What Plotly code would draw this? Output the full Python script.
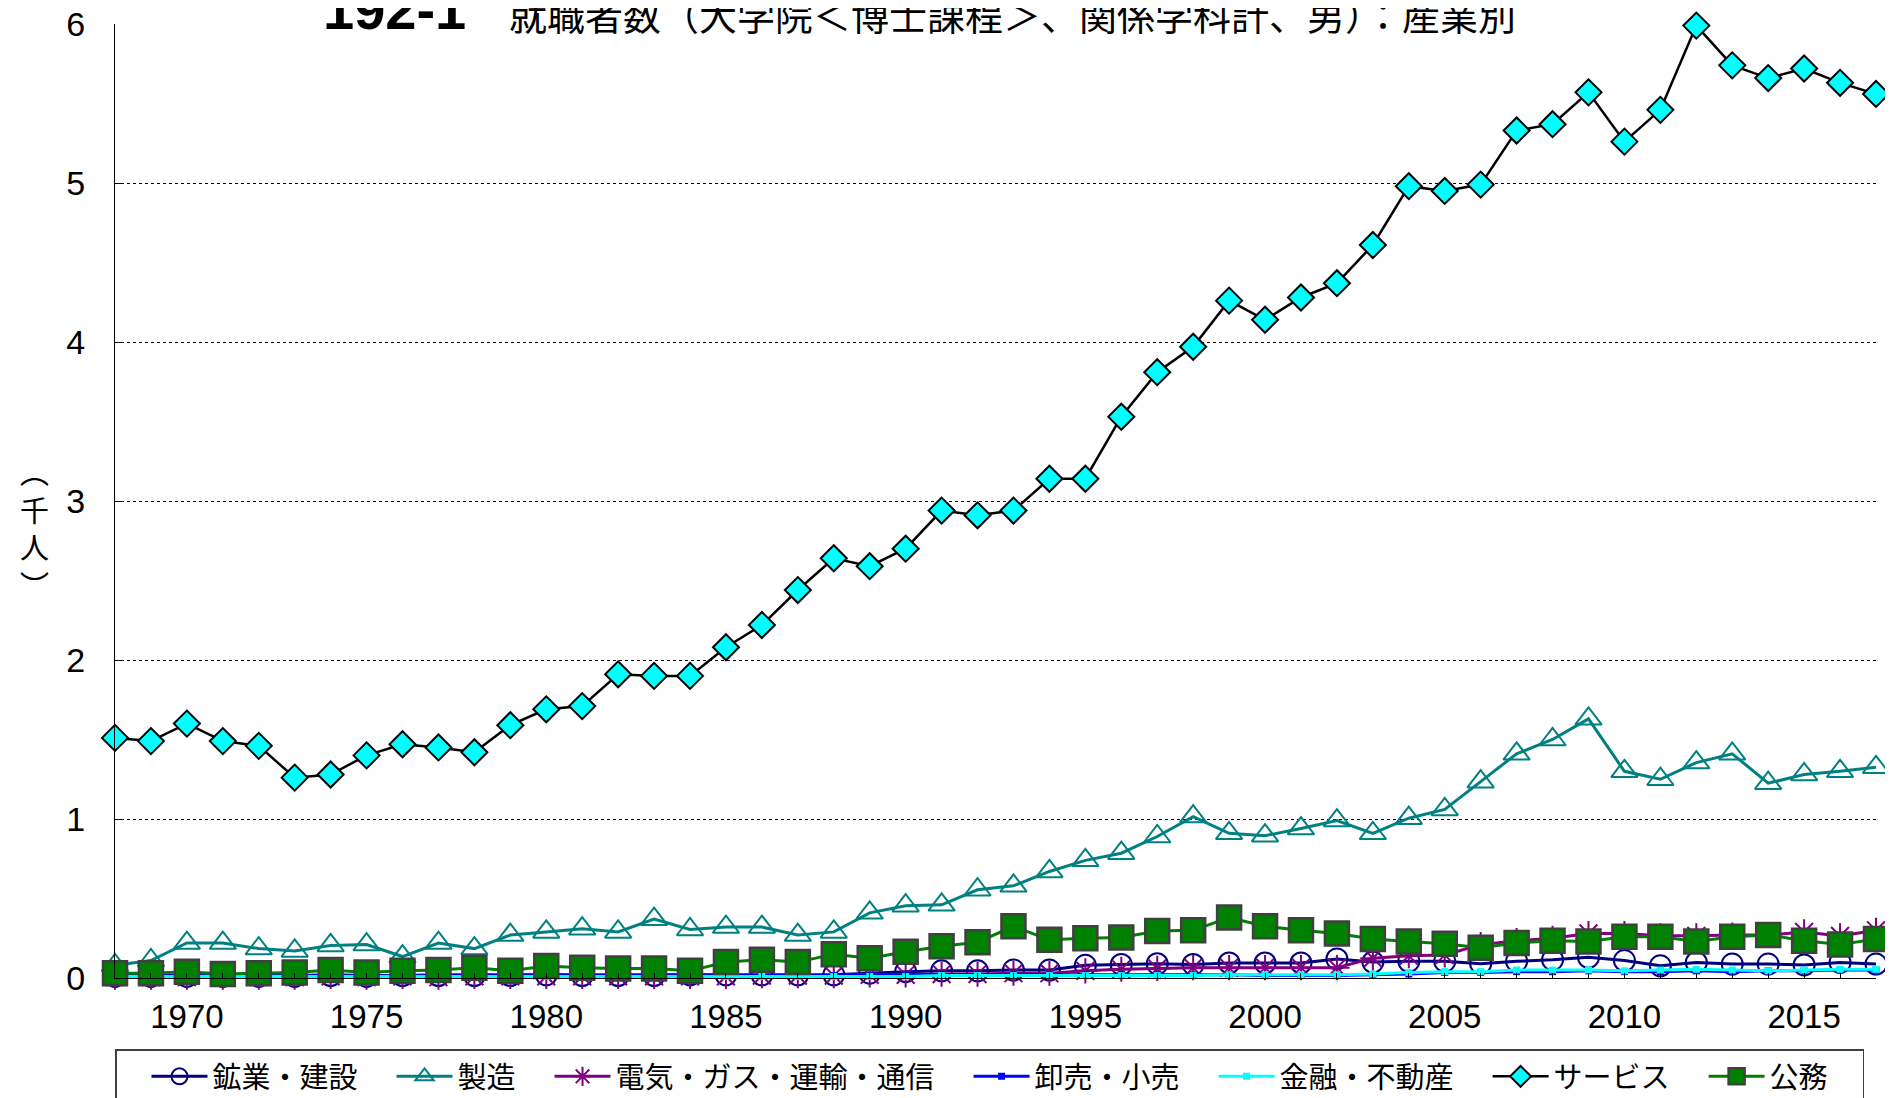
import plotly.graph_objects as go

YEARS = list(range(1968, 2018))

MINING = [0.01, 0.01, 0.01, 0.01, 0.01, 0.01, 0.015, 0.01, 0.015, 0.015,
          0.015, 0.015, 0.02, 0.015, 0.015, 0.015, 0.02, 0.02, 0.02, 0.02,
          0.02, 0.03, 0.04, 0.045, 0.045, 0.05, 0.05, 0.08, 0.085, 0.09,
          0.085, 0.095, 0.095, 0.095, 0.12, 0.10, 0.105, 0.105, 0.09, 0.105,
          0.115, 0.13, 0.11, 0.077, 0.098, 0.088, 0.088, 0.082, 0.098, 0.088]
MANUF = [0.08, 0.11, 0.22, 0.22, 0.185, 0.17, 0.205, 0.21, 0.135, 0.22,
         0.185, 0.27, 0.29, 0.31, 0.29, 0.37, 0.305, 0.32, 0.32, 0.27,
         0.29, 0.41, 0.455, 0.46, 0.555, 0.58, 0.67, 0.74, 0.785, 0.89,
         1.015, 0.91, 0.895, 0.94, 0.99, 0.91, 1.005, 1.06, 1.235, 1.41,
         1.50, 1.63, 1.30, 1.25, 1.355, 1.41, 1.225, 1.28, 1.30, 1.325]
UTIL = [0.005, 0.005, 0.005, 0.005, 0.005, 0.005, 0.01, 0.005, 0.01, 0.005,
        0.01, 0.01, 0.01, 0.01, 0.01, 0.01, 0.01, 0.01, 0.015, 0.015,
        0.015, 0.02, 0.02, 0.025, 0.025, 0.03, 0.03, 0.045, 0.055, 0.06,
        0.065, 0.065, 0.065, 0.065, 0.065, 0.125, 0.14, 0.145, 0.21, 0.235,
        0.25, 0.28, 0.28, 0.265, 0.265, 0.27, 0.27, 0.29, 0.265, 0.30]
TRADE = [0.015, 0.015, 0.015, 0.015, 0.015, 0.015, 0.02, 0.015, 0.015, 0.02,
         0.02, 0.02, 0.02, 0.02, 0.02, 0.02, 0.02, 0.015, 0.015, 0.015,
         0.015, 0.015, 0.02, 0.02, 0.02, 0.02, 0.02, 0.02, 0.02, 0.02,
         0.02, 0.02, 0.015, 0.015, 0.015, 0.02, 0.025, 0.035, 0.035, 0.04,
         0.04, 0.045, 0.04, 0.04, 0.045, 0.04, 0.045, 0.045, 0.05, 0.05]
FINANCE = [0.01, 0.01, 0.01, 0.01, 0.01, 0.01, 0.01, 0.01, 0.01, 0.01,
           0.01, 0.01, 0.01, 0.01, 0.01, 0.01, 0.01, 0.01, 0.01, 0.01,
           0.01, 0.01, 0.01, 0.015, 0.015, 0.015, 0.015, 0.015, 0.015, 0.015,
           0.015, 0.02, 0.02, 0.02, 0.02, 0.025, 0.035, 0.04, 0.04, 0.05,
           0.05, 0.05, 0.045, 0.05, 0.055, 0.05, 0.045, 0.05, 0.055, 0.055]
SERVICE = [1.51, 1.49, 1.60, 1.49, 1.46, 1.26, 1.28, 1.40, 1.47, 1.45,
           1.42, 1.59, 1.69, 1.71, 1.91, 1.90, 1.90, 2.08, 2.22, 2.44,
           2.64, 2.59, 2.70, 2.94, 2.91, 2.94, 3.14, 3.14, 3.53, 3.81,
           3.97, 4.26, 4.14, 4.28, 4.37, 4.61, 4.98, 4.95, 4.99, 5.33,
           5.37, 5.57, 5.26, 5.46, 5.99, 5.74, 5.66, 5.72, 5.63, 5.56]
PUBLIC = [0.03, 0.03, 0.04, 0.025, 0.03, 0.035, 0.05, 0.035, 0.045, 0.05,
          0.065, 0.045, 0.075, 0.065, 0.06, 0.06, 0.045, 0.10, 0.115, 0.10,
          0.15, 0.125, 0.165, 0.20, 0.225, 0.325, 0.24, 0.25, 0.255, 0.295,
          0.30, 0.38, 0.325, 0.30, 0.28, 0.245, 0.23, 0.215, 0.19, 0.22,
          0.235, 0.23, 0.26, 0.26, 0.23, 0.26, 0.27, 0.235, 0.21, 0.245]

NAMES = ["鉱業・建設", "製造", "電気・ガス・運輸・通信", "卸売・小売", "金融・不動産", "サービス", "公務"]
X_TICKS = [1970, 1975, 1980, 1985, 1990, 1995, 2000, 2005, 2010, 2015]
Y_TICKS = [0, 1, 2, 3, 4, 5, 6]
GRID_VALUES = [1, 2, 3, 4, 5]
TITLE_NUM = "192-1"
TITLE = "就職者数（大学院＜博士課程＞、関係学科計、男）：産業別"
Y_TITLE = "︵<br>千<br>人<br>︶"

NUM_FONT = "Liberation Sans, Arial, sans-serif"
JP_FONT = "Noto Sans CJK JP, sans-serif"
PAD = "\u3000"

series = [
    (NAMES[0], MINING, dict(color="#000080", width=3),
     dict(symbol="circle-open", size=21, color="#000080", line=dict(width=2, color="#000080"))),
    (NAMES[1], MANUF, dict(color="#008080", width=3),
     dict(symbol="triangle-up-open", size=23, color="#008080", line=dict(width=2, color="#008080"))),
    (NAMES[2], UTIL, dict(color="#800080", width=3),
     dict(symbol="asterisk-open", size=21, color="#800080", line=dict(width=2, color="#800080"))),
    (NAMES[3], TRADE, dict(color="#0000FF", width=3),
     dict(symbol="square", size=7, color="#0000FF", line=dict(width=0))),
    (NAMES[4], FINANCE, dict(color="#00FFFF", width=3),
     dict(symbol="square", size=7, color="#00FFFF", line=dict(width=0))),
    (NAMES[5], SERVICE, dict(color="#000000", width=2.5),
     dict(symbol="diamond", size=20, color="#00FFFF", line=dict(width=2, color="#000000"))),
    (NAMES[6], PUBLIC, dict(color="#008000", width=3),
     dict(symbol="square", size=24, color="#008000", line=dict(width=2.5, color="#404040"))),
]

fig = go.Figure()
for name, vals, line, marker in series:
    fig.add_trace(go.Scatter(
        x=YEARS, y=vals, name=name + PAD, mode="lines+markers",
        line=line, marker=marker, cliponaxis=False,
    ))

fig.update_layout(
    width=1885, height=1090,
    margin=dict(l=107, r=17, t=16, b=120, autoexpand=False),
    paper_bgcolor="white", plot_bgcolor="white",
    showlegend=True,
    legend=dict(
        orientation="h", xref="paper", x=0, xanchor="left",
        yref="container", y=0.0445, yanchor="top",
        font=dict(family=JP_FONT, size=29, color="#000000"),
        bordercolor="#404040", borderwidth=1.5, bgcolor="white",
        itemwidth=56, traceorder="normal",
        title=dict(text=PAD, side="left", font=dict(family=JP_FONT, size=20)),
    ),
    xaxis=dict(
        range=[1968, 2017], tickmode="array", tickvals=X_TICKS, automargin=False,
        ticks="inside", ticklen=5, tickcolor="#000000",
        showline=True, linecolor="#000000", linewidth=1,
        showgrid=False, zeroline=False,
        tickfont=dict(family=NUM_FONT, size=33, color="#000000"),
        ticklabelstandoff=9, ticklabeloverflow="allow",
        minor=dict(dtick=1, ticks="inside", ticklen=5, tickcolor="#000000", showgrid=False),
    ),
    yaxis=dict(
        range=[0, 6], tickmode="array", tickvals=Y_TICKS, automargin=False,
        ticks="inside", ticklen=9, tickcolor="#000000",
        showline=True, linecolor="#000000", linewidth=1,
        showgrid=False, zeroline=False,
        tickfont=dict(family=NUM_FONT, size=34, color="#000000"),
        ticklabelstandoff=22, ticklabeloverflow="allow",
        minor=dict(tickmode="array", tickvals=GRID_VALUES, showgrid=True,
                   gridcolor="#000000", gridwidth=1, griddash="dot", ticks=""),
    ),
    annotations=[
        dict(text=TITLE_NUM, xref="paper", yref="paper", x=0, xshift=206, y=1.0147,
             xanchor="left", yanchor="middle", showarrow=False,
             font=dict(family=NUM_FONT, size=56, color="#000000", weight="bold")),
        dict(text=TITLE, xref="paper", yref="paper", x=0, xshift=392, y=1.0115,
             xanchor="left", yanchor="middle", showarrow=False,
             font=dict(family=JP_FONT, size=38, color="#000000")),
        dict(text=Y_TITLE, xref="paper", yref="paper", x=0, xshift=-81, y=0.4717,
             xanchor="center", yanchor="middle", showarrow=False,
             font=dict(family=JP_FONT, size=29, color="#000000")),
    ],
)

fig.write_html("out.html")
